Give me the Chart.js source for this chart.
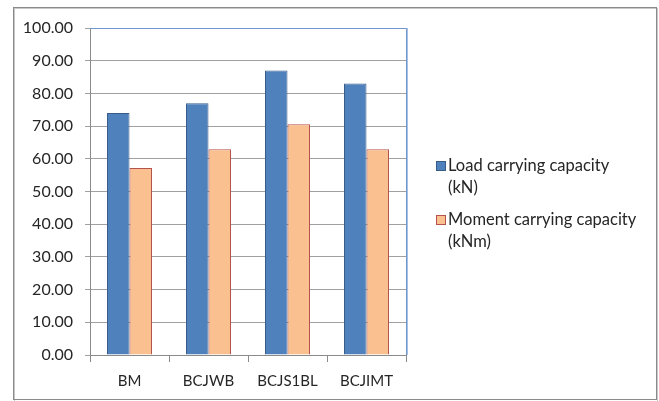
<!DOCTYPE html>
<html>
<head>
<meta charset="utf-8">
<script src="https://cdn.jsdelivr.net/npm/chart.js@4.4.1/dist/chart.umd.min.js"></script>
<style>
  html, body { margin: 0; padding: 0; background: #ffffff; }
  #wrap { width: 659px; height: 401px; position: relative; }
</style>
</head>
<body>
<div id="wrap"><canvas id="c" width="659" height="401"></canvas></div>
<script>
// Beam / joint specimens
const categories = ['BM', 'BCJWB', 'BCJS1BL', 'BCJIMT'];
// Series values
const loadCapacity = [74.0, 77.0, 87.0, 83.0];     // kN
const momentCapacity = [57.2, 62.9, 70.6, 62.9];   // kNm
const seriesNames = ['Load carrying capacity\n(kN)', 'Moment carrying capacity\n(kNm)'];
// Value axis
const yMin = 0, yMax = 100, yStep = 10;

const FONT = 'Lato, "Open Sans", "Liberation Sans", sans-serif';
const TEXT = '#262626';

// Outer frame, plot-area border and a side legend
const decor = {
  id: 'decor',
  beforeDraw(chart) {
    const ctx = chart.ctx;
    ctx.save();
    ctx.fillStyle = '#ffffff';
    ctx.fillRect(0, 0, chart.width, chart.height);
    ctx.strokeStyle = '#c8c8c8';
    ctx.lineWidth = 1;
    ctx.strokeRect(14.5, 8.5, 643, 393);
    ctx.strokeStyle = '#8a8a8a';
    ctx.strokeRect(13.5, 7.5, 643, 392);
    ctx.restore();
  },
  afterDatasetsDraw(chart) {
    const ctx = chart.ctx;
    const a = chart.chartArea;
    ctx.save();
    ctx.strokeStyle = '#a9c0e2';
    ctx.lineWidth = 1;
    ctx.beginPath();
    ctx.moveTo(Math.round(a.right) + 1.5, a.top);
    ctx.lineTo(Math.round(a.right) + 1.5, a.bottom);
    ctx.stroke();
    ctx.strokeStyle = '#6f97cf';
    ctx.beginPath();
    ctx.moveTo(a.left, Math.round(a.top) + 0.5);
    ctx.lineTo(Math.round(a.right) + 0.5, Math.round(a.top) + 0.5);
    ctx.lineTo(Math.round(a.right) + 0.5, a.bottom);
    ctx.stroke();

    // legend
    ctx.font = '16.5px ' + FONT;
    ctx.textBaseline = 'middle';
    ctx.textAlign = 'left';
    const starts = [166, 220];
    chart.data.datasets.forEach((ds, i) => {
      const y0 = starts[i];
      ctx.fillStyle = ds.backgroundColor;
      ctx.fillRect(436, y0 - 5, 10, 10);
      ctx.strokeStyle = ds.borderColor;
      ctx.strokeRect(436.5, y0 - 4.5, 9, 9);
      ctx.fillStyle = TEXT;
      ds.label.split('\n').forEach((line, k) => {
        ctx.fillText(line, 448, y0 + k * 22);
      });
    });
    ctx.restore();
  }
};

new Chart(document.getElementById('c'), {
  type: 'bar',
  data: {
    labels: categories,
    datasets: [
      {
        label: seriesNames[0],
        data: loadCapacity,
        backgroundColor: '#4f81bd',
        borderColor: '#385d8a',
        borderWidth: 1,
        barPercentage: 1.0,
        categoryPercentage: 0.57
      },
      {
        label: seriesNames[1],
        data: momentCapacity,
        backgroundColor: '#fac090',
        borderColor: '#b5524e',
        borderWidth: 1,
        barPercentage: 1.0,
        categoryPercentage: 0.57
      }
    ]
  },
  options: {
    responsive: false,
    animation: false,
    devicePixelRatio: 1,
    layout: { padding: { top: 28, right: 253, bottom: 0, left: 0 } },
    plugins: { legend: { display: false }, tooltip: { enabled: false } },
    scales: {
      x: {
        afterFit(s) { s.height = 46; },
        grid: {
          offset: true,
          drawOnChartArea: false,
          drawTicks: true,
          tickLength: 7,
          color: '#8a8a8a'
        },
        border: { color: '#8a8a8a' },
        ticks: { color: TEXT, font: { family: FONT, size: 15 }, padding: 10 }
      },
      y: {
        min: yMin,
        max: yMax,
        afterFit(s) { s.width = 90; },
        grid: { color: '#a0a0a0', tickLength: 5 },
        border: { color: '#8a8a8a' },
        ticks: {
          stepSize: yStep,
          color: TEXT,
          padding: 12,
          font: { family: FONT, size: 16 },
          callback: v => Number(v).toFixed(2)
        }
      }
    }
  },
  plugins: [decor]
});
</script>
</body>
</html>
